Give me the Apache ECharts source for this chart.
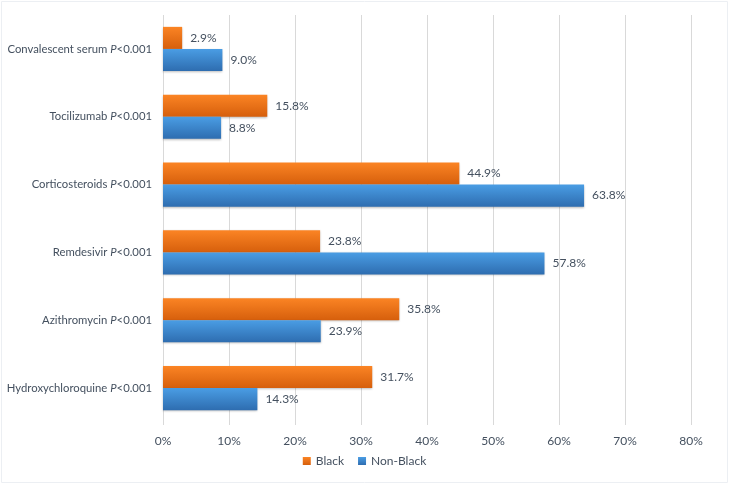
<!DOCTYPE html>
<html><head><meta charset="utf-8">
<script src="https://cdn.jsdelivr.net/npm/echarts@6/dist/echarts.min.js"></script>
<style>html,body{margin:0;padding:0;background:#fff}#c{width:729px;height:485px}</style>
</head><body><div id="c"></div>
<script>
const drugs = ['Convalescent serum','Tocilizumab','Corticosteroids','Remdesivir','Azithromycin','Hydroxychloroquine'];
const pValues = ['<0.001','<0.001','<0.001','<0.001','<0.001','<0.001'];
const black = [2.9, 15.8, 44.9, 23.8, 35.8, 31.7];
const nonBlack = [9.0, 8.8, 63.8, 57.8, 23.9, 14.3];
const seriesNames = ['Black','Non-Black'];

const font = 'Lato';
const txt = '#44505f';
const fs = 11.3;
const chart = echarts.init(document.getElementById('c'));
function grad(a,b){return new echarts.graphic.LinearGradient(0,0,0,1,[{offset:0,color:a},{offset:1,color:b}]);}
const lbl = {show:true,position:'right',distance:8,color:txt,fontSize:12,fontFamily:font,formatter:p=>p.value.toFixed(1)+'%'};
chart.setOption({
  animation:false,
  textStyle:{fontFamily:font},
  graphic:[{type:'rect',shape:{x:1.5,y:1.5,width:726,height:481},style:{fill:'none',stroke:'#eceff3',lineWidth:1},silent:true}],
  grid:{left:163,right:38,top:15,bottom:63,containLabel:false,outerBoundsMode:'none'},
  legend:{bottom:13,left:'center',itemWidth:8,itemHeight:8,itemGap:14,icon:'rect',
    textStyle:{color:txt,fontSize:12,fontFamily:font},data:seriesNames},
  xAxis:{type:'value',min:0,max:80,interval:10,
    axisLabel:{formatter:'{value}%',color:txt,fontSize:12,margin:13},
    splitLine:{lineStyle:{color:'#d9d9d9'}},
    axisLine:{show:false},axisTick:{show:true,length:3,lineStyle:{color:'#d9d9d9'}}},
  yAxis:{type:'category',inverse:true,data:drugs.map((d,i)=>d+' {i|P}'+pValues[i]),
    axisLine:{show:false},axisTick:{show:false},
    axisLabel:{color:txt,fontSize:fs,margin:11,
      rich:{i:{fontStyle:'italic',color:txt,fontSize:fs,fontFamily:font}}}},
  series:[
    {name:seriesNames[0],type:'bar',data:black,barGap:'0%',barCategoryGap:'35%',
     itemStyle:{color:grad('#fb8424','#d65f0c'),shadowColor:'rgba(0,0,0,0.25)',shadowBlur:2,shadowOffsetY:1},
     label:lbl},
    {name:seriesNames[1],type:'bar',data:nonBlack,barGap:'0%',barCategoryGap:'35%',
     itemStyle:{color:grad('#4a9de4','#2e6db0'),shadowColor:'rgba(0,0,0,0.25)',shadowBlur:2,shadowOffsetY:1},
     label:lbl}
  ]
});
</script></body></html>
